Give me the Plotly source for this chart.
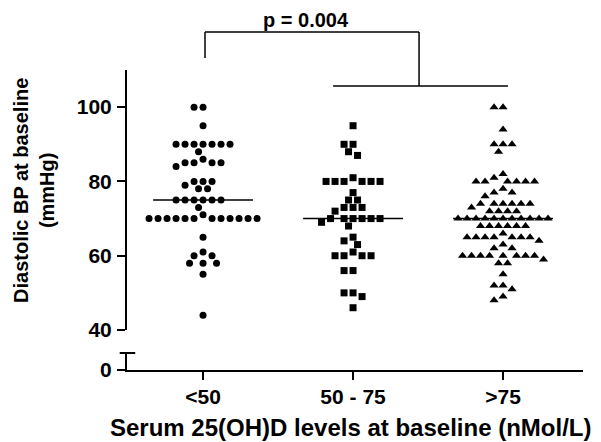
import numpy as np
import plotly.graph_objects as go

categories = ["<50", "50 - 75", ">75"]
symbols = ["circle", "square", "triangle-up"]

# diastolic BP values
bp_lt50 = [100, 100, 95, 90, 90, 90, 90, 90, 90, 90, 88, 86, 85, 85, 85, 85, 84,
           80, 80, 80, 79, 78, 78, 75, 75, 75, 75, 75, 75, 73, 71,
           70, 70, 70, 70, 70, 70, 70, 70, 70, 70, 70, 70,
           65, 61, 60, 60, 58, 58, 58, 55, 44]
bp_50_75 = [95, 90, 90, 88, 87, 81, 80, 80, 80, 80, 80, 80, 77, 75, 75,
            73, 73, 73, 72, 70, 70, 70, 70, 70, 70, 69, 68, 65, 64, 63, 61,
            60, 60, 60, 60, 56, 56, 50, 50, 49, 46]
bp_gt75 = [100, 100, 94, 90, 90, 90, 88, 82, 81, 80, 80, 80, 80, 80, 80, 78, 77, 77, 76,
           74, 74, 74, 74, 74, 74, 73, 72, 72, 72, 72,
           70, 70, 70, 70, 70, 70, 70, 70, 70, 70, 70,
           68, 68, 68, 68, 68, 68, 66, 65, 65, 65, 65, 65, 65, 65, 64, 63, 62, 62,
           60, 60, 60, 60, 60, 60, 60, 60, 59, 58, 58, 55, 52, 52, 51, 49, 48]
groups = [bp_lt50, bp_50_75, bp_gt75]
medians = [75, 70, 70]


def swarm(vals, px_per_unit=3.7, px_per_cat=150.0, gap=8.6):
    # simple beeswarm: put each point as close to the centre as it fits
    placed = []
    offs = []
    steps = [0] + [s * k for k in range(1, 40) for s in (-1, 1)]
    for v in vals:
        vy = v * px_per_unit
        for k in steps:
            px = k * 4.5
            if all((px - qx) ** 2 + (vy - qy) ** 2 >= gap ** 2 for qx, qy in placed):
                break
        placed.append((px, vy))
        offs.append(px / px_per_cat)
    return offs


fig = go.Figure()
for i, vals in enumerate(groups):
    offs = swarm(vals)
    fig.add_trace(go.Scatter(
        x=[i + o for o in offs], y=vals, mode="markers",
        marker=dict(symbol=symbols[i], size=8 if i == 2 else 7, color="black",
                    line=dict(width=0)),
        showlegend=False, hoverinfo="y"))
    fig.add_trace(go.Scatter(
        x=[i - 0.333, i + 0.333], y=[medians[i], medians[i]], mode="lines",
        line=dict(color="black", width=1.5), showlegend=False, hoverinfo="skip"))

# helper so the lower (broken) axis piece exists
fig.add_trace(go.Scatter(x=[None], y=[None], xaxis="x", yaxis="y2",
                         showlegend=False, hoverinfo="skip"))

tickfont = dict(family="Arial, Liberation Sans", size=21, color="black", weight="bold")
axis_style = dict(showline=True, linewidth=2, linecolor="black", ticks="outside",
                  ticklen=8, tickwidth=2, tickcolor="black", showgrid=False,
                  zeroline=False, tickfont=tickfont)

# page body has an 8px margin, so the figure is a bit smaller than the window
fig.update_layout(
    width=593, height=434,
    margin=dict(l=119, r=18, t=62, b=72),
    plot_bgcolor="white", paper_bgcolor="white",
    xaxis=dict(range=[-0.507, 2.533], tickvals=[0, 1, 2], ticktext=categories,
               anchor="y2", ticklabelstandoff=-1, **axis_style),
    yaxis=dict(range=[40, 110], tickvals=[40, 60, 80, 100], domain=[0.1333, 1],
               anchor="x", ticklabelstandoff=1, **axis_style),
    yaxis2=dict(range=[0, 4.6], tickvals=[0], domain=[0, 0.0567],
                anchor="x", ticklabelstandoff=1, **axis_style),
)

bracket = dict(color="black", width=1.5)
fig.add_shape(type="line", xref="x", yref="paper", x0=0.013, x1=1.44, y0=1.1267, y1=1.1267, line=bracket)
fig.add_shape(type="line", xref="x", yref="paper", x0=0.013, x1=0.013, y0=1.1267, y1=1.04, line=bracket)
fig.add_shape(type="line", xref="x", yref="paper", x0=1.44, x1=1.44, y0=1.1267, y1=0.9467, line=bracket)
fig.add_shape(type="line", xref="x", yref="paper", x0=0.867, x1=2.033, y0=0.9467, y1=0.9467, line=bracket)
# axis break cap
fig.add_shape(type="line", xref="paper", yref="paper", x0=-0.016, x1=0.018, y0=0.0567, y1=0.0567,
              line=dict(color="black", width=2))

bold = dict(family="Arial, Liberation Sans", color="black", weight="bold")
fig.add_annotation(text="p = 0.004", xref="x", yref="paper", x=0.687, y=1.1667,
                   xanchor="center", yanchor="middle", showarrow=False,
                   font=dict(size=20, **bold))
fig.add_annotation(text="Diastolic BP at baseline<br>(mmHg)", xref="paper", yref="paper",
                   x=-0.204, y=0.6, xanchor="center", yanchor="middle", textangle=-90,
                   showarrow=False, font=dict(size=20, **bold))
fig.add_annotation(text="Serum 25(OH)D levels at baseline (nMol/L)", xref="paper", yref="paper",
                   x=0.491, y=-0.193, xanchor="center", yanchor="middle", showarrow=False,
                   font=dict(size=24, **bold))

fig.write_html("out.html")
